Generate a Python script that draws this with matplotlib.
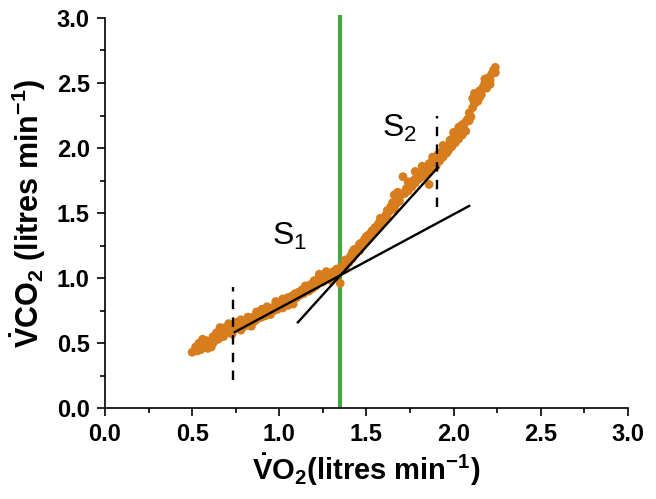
import numpy as np
import matplotlib
matplotlib.use("Agg")
import matplotlib.pyplot as plt
from matplotlib.ticker import MultipleLocator

plt.rcParams['font.family'] = ['Liberation Sans', 'DejaVu Sans']
plt.rcParams['mathtext.fontset'] = 'custom'
plt.rcParams['mathtext.rm'] = 'Liberation Sans'
plt.rcParams['mathtext.bf'] = 'Liberation Sans:bold'
plt.rcParams['mathtext.it'] = 'Liberation Sans:italic'

# VO2 / VCO2 breath points (litres min-1)
vo2 = [0.50, 0.52, 0.54, 0.55, 0.57, 0.58, 0.60, 0.61, 0.62, 0.63, 0.64, 0.65, 0.66, 0.67, 0.68,
       0.69, 0.70, 0.71, 0.72, 0.73, 0.74,
       0.76, 0.77, 0.78, 0.79, 0.80, 0.81, 0.82, 0.83, 0.84, 0.85, 0.86, 0.87, 0.88, 0.89, 0.90,
       0.91, 0.92, 0.93, 0.94, 0.95, 0.96, 0.97, 0.98, 0.99, 1.00, 1.01, 1.02, 1.03, 1.04, 1.05,
       1.06, 1.07, 1.08, 1.09, 1.10, 1.11, 1.12, 1.13, 1.14, 1.16, 1.17, 1.18, 1.20, 1.21, 1.22,
       1.22, 1.24, 1.25, 1.26, 1.27, 1.28, 1.29, 1.30, 1.31, 1.32, 1.33, 1.35, 1.35,
       1.36, 1.37, 1.38, 1.39, 1.40, 1.41, 1.42, 1.43, 1.44, 1.45, 1.46, 1.47, 1.48, 1.49, 1.50,
       1.51, 1.52, 1.53, 1.54, 1.55, 1.56, 1.57, 1.58, 1.59, 1.60, 1.61, 1.62, 1.63, 1.65, 1.66,
       1.66, 1.67, 1.68, 1.69, 1.70, 1.71, 1.72, 1.72, 1.73, 1.74, 1.75, 1.76, 1.77, 1.78, 1.79,
       1.80, 1.81, 1.82, 1.83, 1.84, 1.85, 1.86, 1.86, 1.87, 1.88, 1.89, 1.90,
       1.91, 1.92, 1.93, 1.94, 1.95, 1.96, 1.97, 1.98, 1.99, 2.00, 2.01, 2.02, 2.03, 2.04, 2.05,
       2.05, 2.06, 2.07, 2.08, 2.09, 2.10, 2.11, 2.11, 2.12, 2.13, 2.14, 2.15, 2.16, 2.17, 2.18,
       2.19, 2.20, 2.21, 2.22, 2.23, 2.24,
       0.53, 0.56, 0.59, 0.62, 0.64, 0.66, 0.69, 0.71, 0.75, 0.78, 0.82, 0.84, 0.87, 0.90, 0.93,
       0.95, 0.98, 1.02, 1.05, 1.08, 1.11, 1.15, 1.19, 1.23, 1.27, 1.30, 1.33, 1.38, 1.42, 1.46,
       1.50, 1.54, 1.58, 1.62, 1.64, 1.68, 1.74, 1.78, 1.82, 1.85, 1.88, 1.90, 1.94, 1.97, 2.00,
       2.03, 2.07, 2.09, 2.12, 2.15, 2.18, 2.21, 2.24]
vco2 = [0.43, 0.47, 0.50, 0.45, 0.48, 0.52, 0.50, 0.47, 0.55, 0.52, 0.58, 0.53, 0.56, 0.60, 0.55,
        0.62, 0.58, 0.60, 0.63, 0.57, 0.61,
        0.62, 0.64, 0.60, 0.66, 0.63, 0.67, 0.64, 0.68, 0.66, 0.70, 0.67, 0.71, 0.69, 0.72, 0.70,
        0.74, 0.71, 0.73, 0.76, 0.74, 0.77, 0.75, 0.80, 0.76, 0.78, 0.81, 0.77, 0.80, 0.83, 0.79,
        0.82, 0.86, 0.83, 0.88, 0.85, 0.89, 0.87, 0.91, 0.88, 0.93, 0.90, 0.95, 0.98, 0.94, 0.99,
        0.98, 1.00, 0.97, 1.02, 1.00, 1.03, 0.99, 1.02, 1.05, 1.01, 1.04, 0.96, 1.06,
        1.08, 1.10, 1.08, 1.13, 1.12, 1.17, 1.15, 1.22, 1.19, 1.23, 1.21, 1.27, 1.25, 1.30, 1.28,
        1.33, 1.31, 1.36, 1.34, 1.39, 1.37, 1.42, 1.40, 1.45, 1.43, 1.48, 1.46, 1.51, 1.58, 1.53,
        1.64, 1.57, 1.61, 1.59, 1.64, 1.78, 1.65, 1.66, 1.69, 1.67, 1.72, 1.70, 1.75, 1.73, 1.78,
        1.76, 1.80, 1.78, 1.83, 1.81, 1.85, 1.88, 1.72, 1.84, 1.90, 1.87, 1.92,
        1.95, 1.90, 1.97, 1.93, 2.00, 1.96, 2.02, 2.06, 2.01, 2.08, 2.04, 2.10, 2.07, 2.14, 2.10,
        2.18, 2.18, 2.13, 2.22, 2.27, 2.24, 2.31, 2.38, 2.34, 2.40, 2.36, 2.44, 2.41, 2.47, 2.50,
        2.46, 2.54, 2.52, 2.57, 2.60, 2.58,
        0.44, 0.53, 0.46, 0.50, 0.54, 0.62, 0.57, 0.65, 0.66, 0.68, 0.70, 0.63, 0.74, 0.76, 0.78,
        0.72, 0.82, 0.84, 0.85, 0.80, 0.89, 0.94, 0.92, 1.03, 1.05, 0.98, 1.07, 1.14, 1.20, 1.26,
        1.32, 1.37, 1.46, 1.52, 1.55, 1.66, 1.74, 1.82, 1.86, 1.80, 1.93, 1.86, 2.02, 1.98, 2.12,
        2.16, 2.20, 2.21, 2.42, 2.39, 2.53, 2.49, 2.62]

# regression lines S1 and S2 (end points)
s1_x = [0.745, 2.09]
s1_y = [0.585, 1.555]
s2_x = [1.107, 1.91]
s2_y = [0.66, 1.85]

# segment limits (dashed) and threshold (green)
bound_x = [0.735, 1.905]
bound_lo = [0.22, 1.55]
bound_hi = [0.93, 2.25]
threshold_vo2 = 1.35

fig = plt.figure(figsize=(6.56, 4.99), dpi=100)
ax = fig.add_axes([0.16, 0.182, 0.797, 0.782])

ax.scatter(vo2, vco2, s=40, color='#d87d1e', edgecolors='none', zorder=2)
ax.plot(s1_x, s1_y, color='black', lw=1.7, zorder=3)
ax.plot(s2_x, s2_y, color='black', lw=1.7, zorder=3)
for bx, lo, hi in zip(bound_x, bound_lo, bound_hi):
    ax.plot([bx, bx], [lo, hi], color='black', lw=1.7, ls=(0, (4, 3.5)), zorder=3)
ax.plot([threshold_vo2, threshold_vo2], [0, 3.02], color='#43a843', lw=3,
        zorder=1, clip_on=False, solid_capstyle='butt')

ax.text(1.06, 1.32, r'S$_\mathregular{1}$', fontsize=23, ha='center', va='center')
ax.text(1.69, 2.15, r'S$_\mathregular{2}$', fontsize=23, ha='center', va='center')

ax.set_xlim(0, 3)
ax.set_ylim(0, 3)
ax.xaxis.set_major_locator(MultipleLocator(0.5))
ax.yaxis.set_major_locator(MultipleLocator(0.5))
ax.xaxis.set_minor_locator(MultipleLocator(0.25))
ax.yaxis.set_minor_locator(MultipleLocator(0.25))
ax.tick_params(which='major', direction='out', length=6, width=1.2, labelsize=17, pad=5)
ax.tick_params(which='minor', direction='out', length=3.5, width=1.2)
for lab in ax.get_xticklabels() + ax.get_yticklabels():
    lab.set_fontweight('bold')
ax.spines['top'].set_visible(False)
ax.spines['right'].set_visible(False)
ax.spines['left'].set_linewidth(1.2)
ax.spines['bottom'].set_linewidth(1.2)

ax.set_xlabel(r'$\mathbf{\dot{V}O}_\mathbf{2}$(litres min$^{\mathbf{-1}}$)',
              fontsize=21, fontweight='bold', labelpad=4)
ax.set_ylabel(r'$\mathbf{\dot{V}CO}_\mathbf{2}$ (litres min$^{\mathbf{-1}}$)',
              fontsize=22, fontweight='bold', labelpad=6)

fig.savefig('out.png', dpi=100)
